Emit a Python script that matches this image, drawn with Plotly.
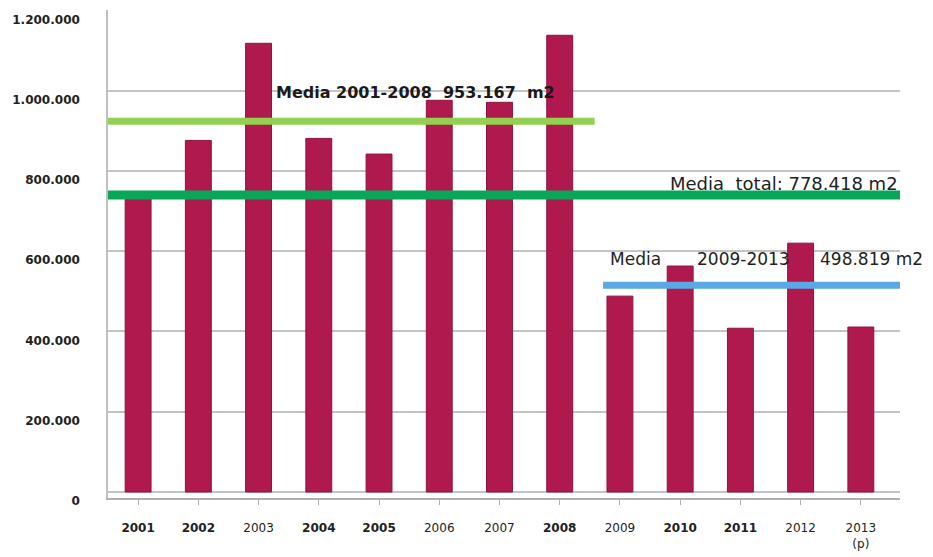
import plotly.graph_objects as go

years = ["2001", "2002", "2003", "2004", "2005", "2006", "2007", "2008",
         "2009", "2010", "2011", "2012", "2013"]
year_labels = ["<b>2001</b>", "<b>2002</b>", "2003", "<b>2004</b>", "<b>2005</b>",
               "2006", "2007", "<b>2008</b>", "2009", "<b>2010</b>", "<b>2011</b>",
               "2012", "2013<br>(p)"]
values_m2 = [745000, 876000, 1118000, 881000, 842000, 976000, 971000, 1138000,
             488000, 563000, 408000, 620000, 411000]

y_tick_vals = [0, 200000, 400000, 600000, 800000, 1000000, 1200000]
y_tick_text = ["0", "200.000", "400.000", "600.000", "800.000", "1.000.000", "1.200.000"]

# mean lines: (level as drawn, x start, x end, colour)
mean_levels = [924000, 740000, 515000]
mean_x_start = [-0.5, -0.5, 7.72]
mean_x_end = [7.58, 12.65, 12.65]
mean_colors = ["#92d050", "#07a659", "#5aa9e4"]
mean_widths = [7, 9, 7]

mean_text_1 = "Media 2001-2008  953.167  m2"
mean_text_2 = "Media  total: 778.418 m2"
mean_text_3_parts = ["Media", "2009-2013", "498.819 m2"]
mean_text_3_x = [7.8, 9.24, 11.29]

fig = go.Figure()
fig.add_trace(go.Bar(
    x=list(range(len(years))), y=values_m2,
    marker=dict(color="#b0194e", line=dict(color="#8e1240", width=1)),
    width=0.43, showlegend=False, hoverinfo="y"))

for lvl, xs, xe, c, w in zip(mean_levels, mean_x_start, mean_x_end, mean_colors, mean_widths):
    fig.add_trace(go.Scatter(x=[xs, xe], y=[lvl, lvl], mode="lines",
                             line=dict(color=c, width=w), showlegend=False,
                             hoverinfo="skip"))

fig.add_annotation(x=4.6, y=996000, text="<b>" + mean_text_1 + "</b>", showarrow=False,
                   font=dict(family="DejaVu Sans", size=16, color="#1a1a1a"),
                   xanchor="center", yanchor="middle")
fig.add_annotation(x=1.0, xref="paper", y=769000, text=mean_text_2, showarrow=False,
                   font=dict(family="DejaVu Sans", size=18, color="#222"),
                   xanchor="right", yanchor="middle")
for part, px in zip(mean_text_3_parts, mean_text_3_x):
    fig.add_annotation(x=px, y=580000, text=part, showarrow=False,
                       font=dict(family="DejaVu Sans", size=17, color="#222"),
                       xanchor="left", yanchor="middle")

fig.update_layout(
    width=933, height=557,
    margin=dict(l=108, r=33, t=10, b=59),
    paper_bgcolor="white", plot_bgcolor="white",
    font=dict(family="DejaVu Sans", color="#333"),
    bargap=0.57,
)
fig.update_xaxes(
    range=[-0.5, 12.65], tickmode="array", tickvals=list(range(len(years))),
    ticktext=year_labels, showgrid=False, showline=True, linecolor="#b0b0b0",
    linewidth=1.5, ticks="outside", tickson="boundaries", ticklen=5,
    tickcolor="#b0b0b0", tickfont=dict(size=12, color="#222", family="DejaVu Sans"),
    ticklabelstandoff=13, zeroline=False, automargin=False,
)
fig.update_yaxes(
    range=[-15000, 1201000], tickmode="array", tickvals=y_tick_vals,
    ticktext=y_tick_text, showgrid=True, gridcolor="#c4c4c4", gridwidth=1.5,
    showline=True, linecolor="#c0c0c0", linewidth=1.5, zeroline=False,
    tickfont=dict(size=12, color="#222", family="DejaVu Sans", weight="bold"),
    ticklabelstandoff=24, ticklabelshift=9, automargin=False,
)
fig.write_html("out.html")
